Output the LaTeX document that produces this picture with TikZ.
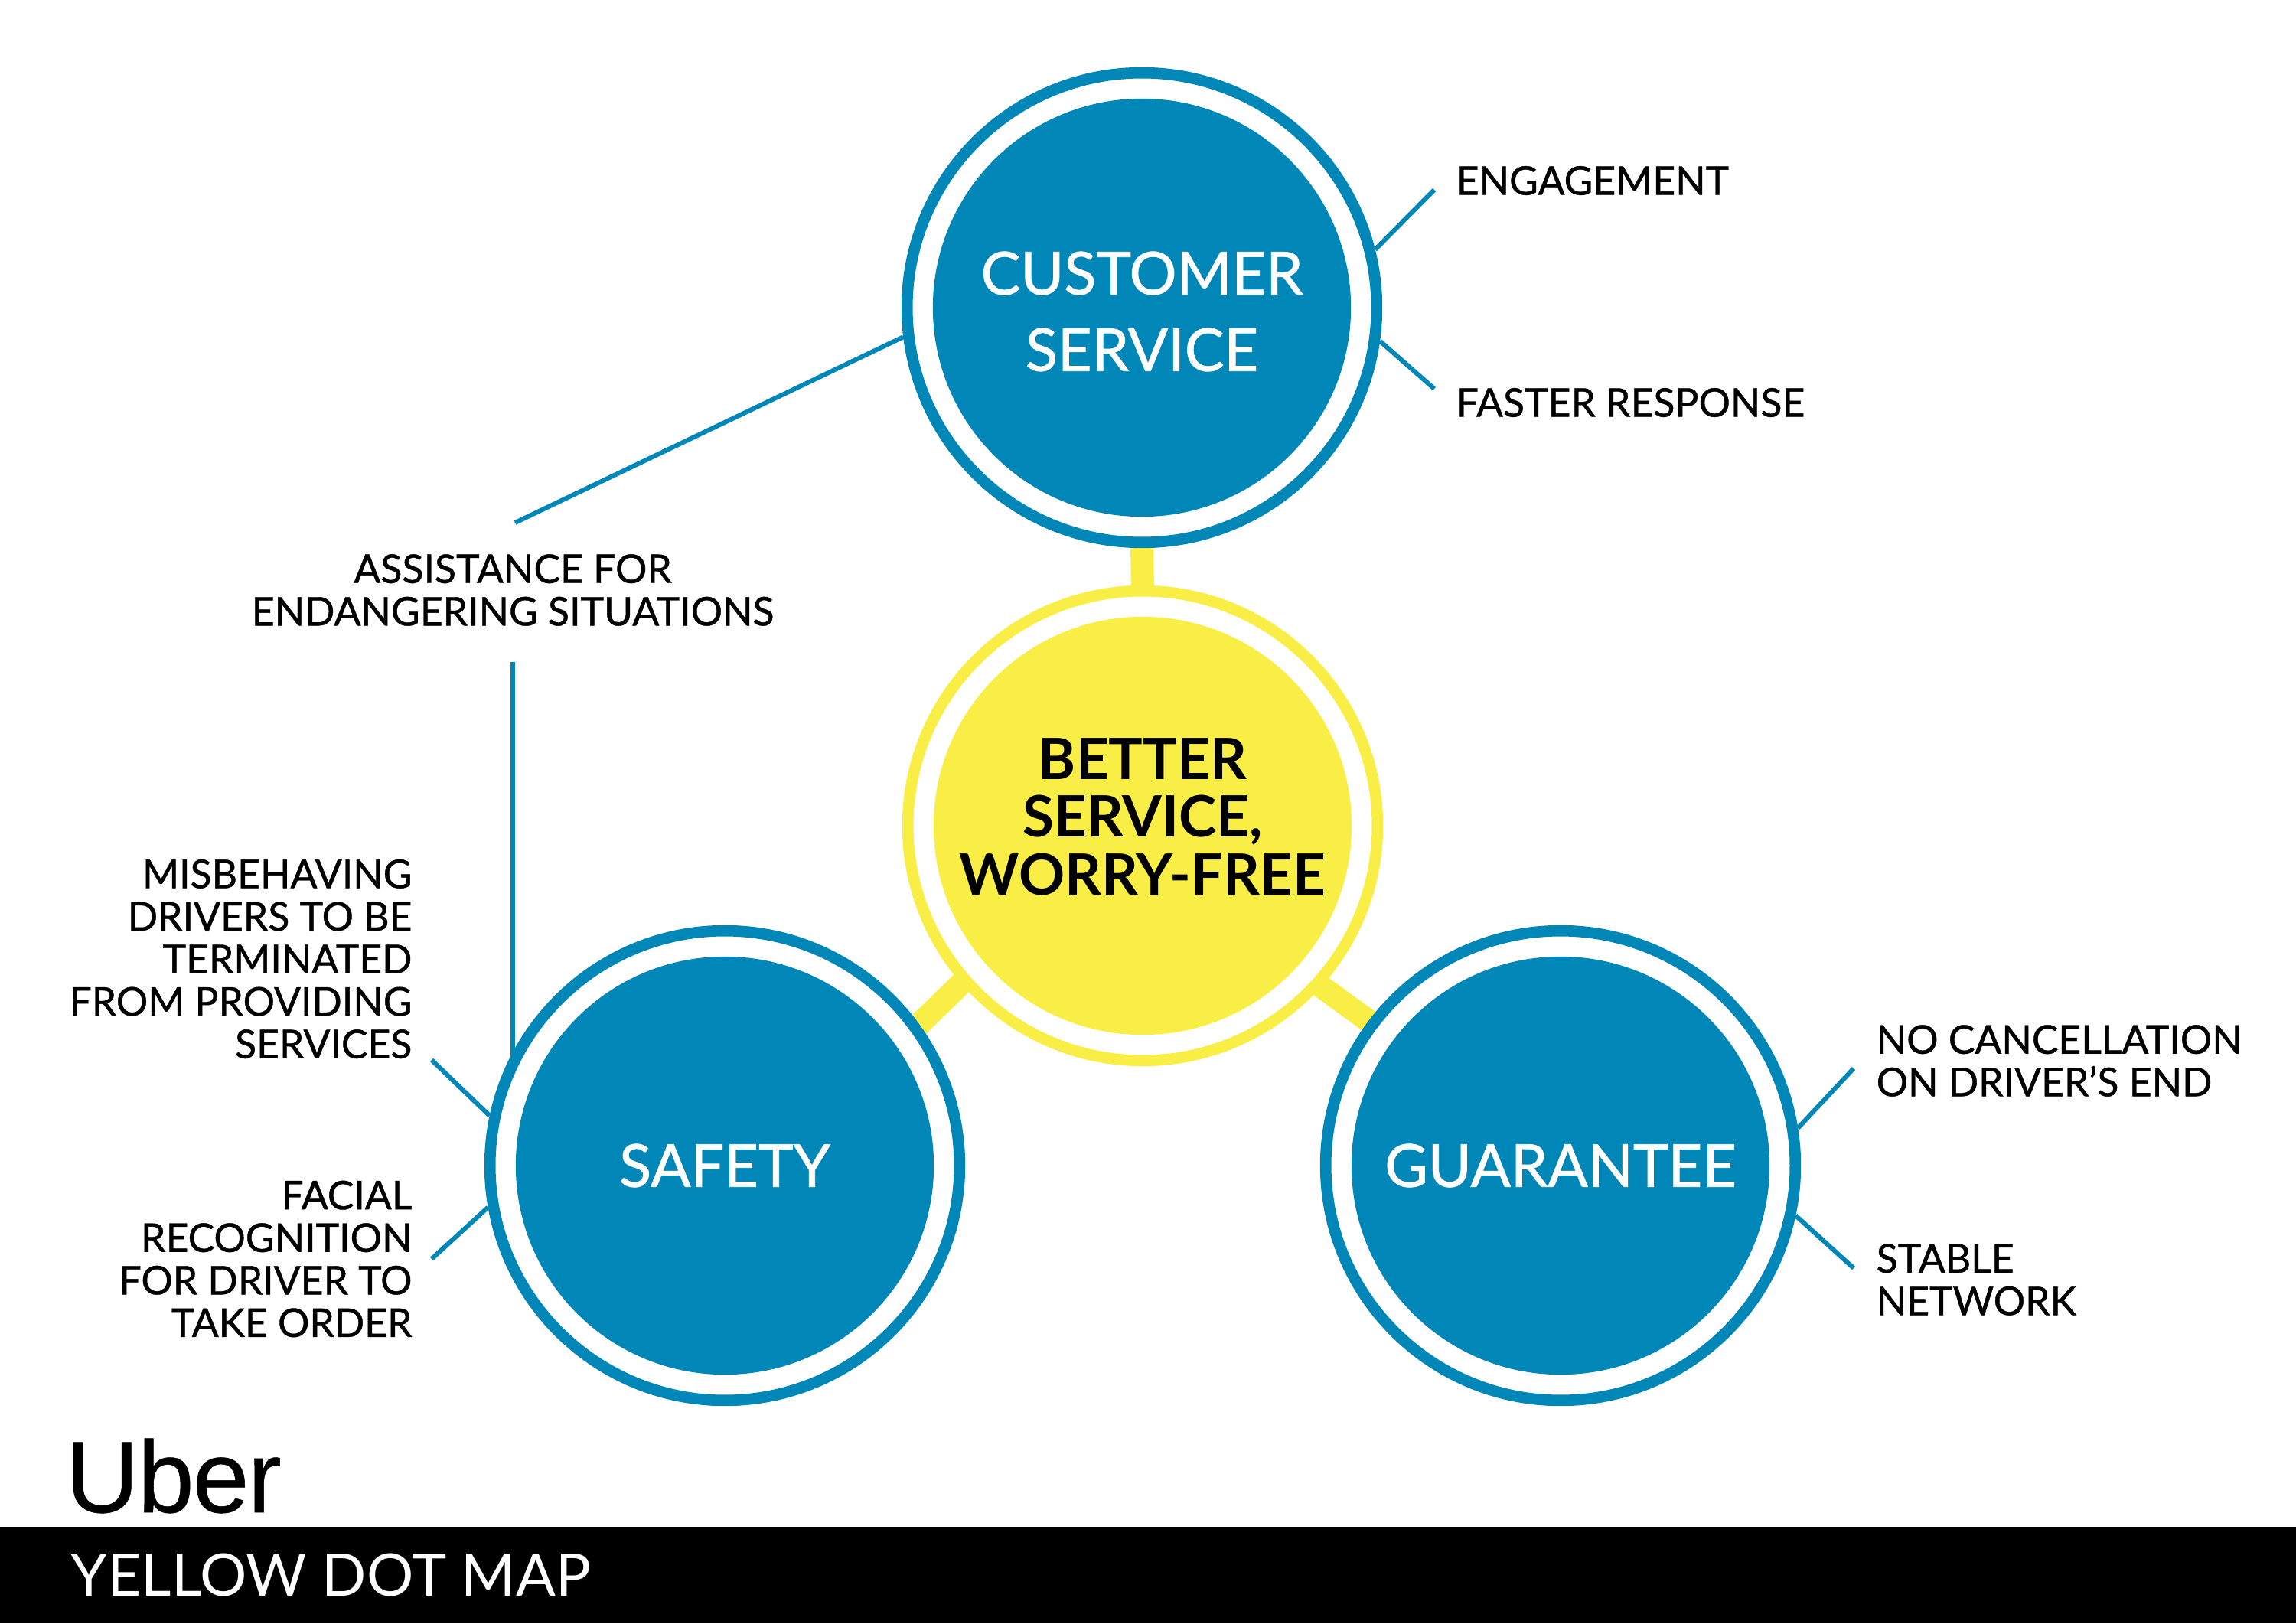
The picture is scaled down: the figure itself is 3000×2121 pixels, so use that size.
\documentclass[tikz,border=0pt]{standalone}
\usepackage{fontspec}
\setmainfont{Lato}
\newfontfamily\wordfont[LetterSpace=-1.5,FakeBold=0.4]{Liberation Sans}
\newfontfamily\mediumfont[FakeBold=1]{Lato}
\newfontfamily\labelfont[FakeBold=0.8]{Lato}
\usepackage{xcolor}
\usetikzlibrary{backgrounds}
\definecolor{dotblue}{HTML}{0087B7}
\definecolor{dotyellow}{HTML}{F9EE45}

\begin{document}
\begin{tikzpicture}[
x=0.01cm, y=-0.01cm,
ring/.style={circle, draw, line width=1.47mm, minimum size=6.133cm, inner sep=0pt},
disc/.style={circle, minimum size=5.46cm, inner sep=0pt},
title/.style={inner sep=0pt, align=center, text=white, font=\mediumfont\fontsize{22}{28.4}\selectfont},
leaf/.style={dotblue, line width=0.6mm},
stem/.style={dotyellow, line width=3mm, shorten <=-1mm, shorten >=-1mm},
lbl/.style={inner sep=0pt, font=\labelfont\fontsize{14.7}{15.8}\selectfont}
]
\useasboundingbox (0,0) rectangle (3000,2121);
\fill[black] (0,1995) rectangle (3000,2121);

\node[ring, dotyellow] (betterring) at (1493,1079) {};
\node[disc, fill=dotyellow] (better) at (betterring) {};
\node[inner sep=0pt, align=center, font=\fontsize{21.2}{21.5}\selectfont\bfseries] (bettertext) at (1493,1067) {BETTER\\SERVICE,\\WORRY-FREE};

\node[ring, dotblue] (custring) at (1492,402) {};
\node[disc, fill=dotblue] (cust) at (custring) {};
\node[title] (custtext) at (1492,407) {CUSTOMER\\SERVICE};
\node[ring, dotblue] (safering) at (947,1523) {};
\node[disc, fill=dotblue] (safe) at (safering) {};
\node[title] (safetext) at (safering) {SAFETY};
\node[ring, dotblue] (guarring) at (2039,1523) {};
\node[disc, fill=dotblue] (guar) at (guarring) {};
\node[title] (guartext) at (guarring) {GUARANTEE};

\begin{scope}[on background layer]
\draw[stem] (betterring.north) -- (custring.south);
\draw[stem] (betterring.221.5) -- (safering.36.6);
\draw[stem] (betterring.318) -- (guarring.143.7);
\end{scope}

\node[lbl, anchor=west] (engage) at (1902,236) {ENGAGEMENT};
\node[lbl, anchor=west] (faster) at (1902,526) {FASTER RESPONSE};
\node[lbl, align=center] (assist) at (670,771) {ASSISTANCE FOR\\ENDANGERING SITUATIONS};
\node[lbl, anchor=east, align=right] (misbehave) at (539,1253) {MISBEHAVING\\DRIVERS TO BE\\TERMINATED\\FROM PROVIDING\\SERVICES};
\node[lbl, anchor=east, align=right] (facial) at (539,1645) {FACIAL\\RECOGNITION\\FOR DRIVER TO\\TAKE ORDER};
\node[lbl, anchor=west, align=left] (nocancel) at (2451,1386) {NO CANCELLATION\\ON DRIVER’S END};
\node[lbl, anchor=west, align=left] (stable) at (2451,1672) {STABLE\\NETWORK};

\coordinate (engagefree) at (1874,248);
\coordinate (fasterfree) at (1874,508);
\coordinate (assistup) at (673,683);
\coordinate (assistdown) at (670,865);
\coordinate (misfree) at (564,1385);
\coordinate (facialfree) at (564,1645);
\coordinate (cancelfree) at (2422,1396);
\coordinate (stablefree) at (2422,1657);

\draw[leaf] (custring.14.6) -- (engagefree);
\draw[leaf] (custring.-8.2) -- (fasterfree);
\draw[leaf] (custring.187.3) -- (assistup);
\draw[leaf, shorten >=-1mm] (assistdown) -- (assistdown |- safering.151.9);
\draw[leaf] (safering.168) -- (misfree);
\draw[leaf] (safering.190.5) -- (facialfree);
\draw[leaf] (guarring.9.9) -- (cancelfree);
\draw[leaf] (guarring.-12.3) -- (stablefree);

\node[inner sep=0pt, anchor=base west, font=\wordfont\fontsize{37.8}{40}\selectfont] (uber) at (85,1976) {Uber};
\node[inner sep=0pt, anchor=base west, text=white, font=\fontsize{21.8}{24}\selectfont] (mapname) at (92,2085) {YELLOW DOT MAP};
\end{tikzpicture}
\end{document}
